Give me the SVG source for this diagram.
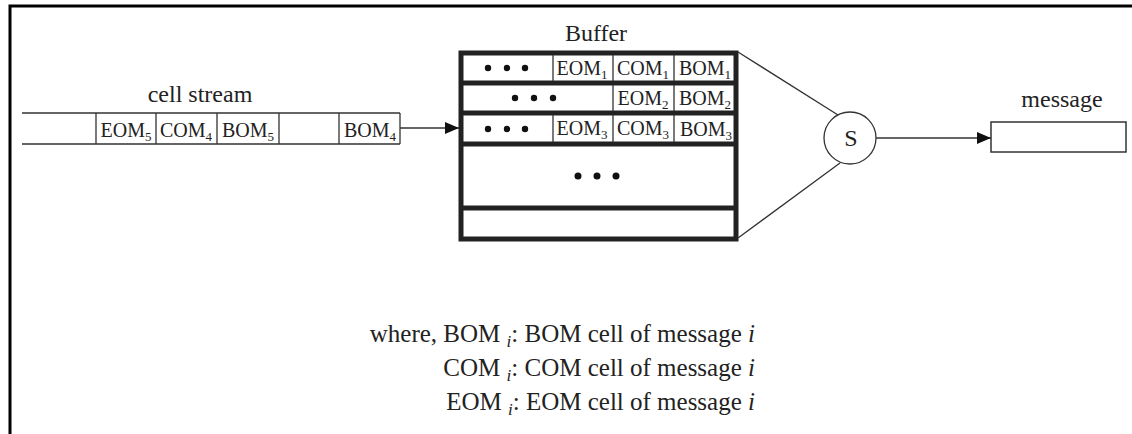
<svg xmlns="http://www.w3.org/2000/svg" width="1132" height="434" viewBox="0 0 1132 434">
<defs>
<style>
.t{font-family:"Liberation Serif","Times New Roman",serif;fill:#222;}
.lab{font-size:24px;}
.leg{font-size:25px;}
.cell{font-size:20px;}
.sub{font-size:13px;}
.thin{stroke:#333;stroke-width:1.3;fill:none;}
.thick{stroke:#222;stroke-width:5;fill:none;}
.dot{fill:#111;}
</style>
<marker id="arr" viewBox="0 0 14 12" refX="14" refY="6" markerWidth="14" markerHeight="12" markerUnits="userSpaceOnUse" orient="auto">
<path d="M0,0 L14,6 L0,12 Z" fill="#111"/>
</marker>
</defs>
<rect width="1132" height="434" fill="#fff"/>
<g id="frame">
<path d="M10,434 L10,6 L1132,6" stroke="#000" stroke-width="3" fill="none"/>
</g>
<g id="cellstream">
<text class="t lab" x="200" y="102" text-anchor="middle">cell stream</text>
<path class="thin" d="M22,113 L400,113 M22,144 L400,144 M96,113 V144 M156,113 V144 M217,113 V144 M279,113 V144 M339,113 V144 M400,113 V144"/>
<text class="t cell" x="126" y="137" text-anchor="middle">EOM<tspan class="sub" dy="4">5</tspan></text>
<text class="t cell" x="186" y="137" text-anchor="middle">COM<tspan class="sub" dy="4">4</tspan></text>
<text class="t cell" x="248" y="137" text-anchor="middle">BOM<tspan class="sub" dy="4">5</tspan></text>
<text class="t cell" x="370" y="137" text-anchor="middle">BOM<tspan class="sub" dy="4">4</tspan></text>
</g>
<g id="buffer">
<text class="t lab" x="596" y="41" text-anchor="middle">Buffer</text>
<rect class="thick" x="461" y="53" width="275" height="186"/>
<path class="thick" d="M461,83 H736 M461,113 H736 M461,144 H736 M461,208 H736"/>
<path class="thin" d="M553,55 V81 M613,55 V81 M674,55 V81 M613,85 V111 M674,85 V111 M553,115 V142 M613,115 V142 M674,115 V142"/>
<circle class="dot" cx="488" cy="68" r="3.2"/><circle class="dot" cx="507" cy="68" r="3.2"/><circle class="dot" cx="525" cy="68" r="3.2"/>
<circle class="dot" cx="515" cy="98" r="3.2"/><circle class="dot" cx="534" cy="98" r="3.2"/><circle class="dot" cx="553" cy="98" r="3.2"/>
<circle class="dot" cx="488" cy="129" r="3.2"/><circle class="dot" cx="507" cy="129" r="3.2"/><circle class="dot" cx="525" cy="129" r="3.2"/>
<circle class="dot" cx="578" cy="176" r="3.5"/><circle class="dot" cx="597" cy="176" r="3.5"/><circle class="dot" cx="616" cy="176" r="3.5"/>
<text class="t cell" x="582" y="75" text-anchor="middle">EOM<tspan class="sub" dy="4">1</tspan></text>
<text class="t cell" x="643" y="75" text-anchor="middle">COM<tspan class="sub" dy="4">1</tspan></text>
<text class="t cell" x="705" y="75" text-anchor="middle">BOM<tspan class="sub" dy="4">1</tspan></text>
<text class="t cell" x="643" y="105" text-anchor="middle">EOM<tspan class="sub" dy="4">2</tspan></text>
<text class="t cell" x="705" y="105" text-anchor="middle">BOM<tspan class="sub" dy="4">2</tspan></text>
<text class="t cell" x="582" y="135" text-anchor="middle">EOM<tspan class="sub" dy="4">3</tspan></text>
<text class="t cell" x="643" y="135" text-anchor="middle">COM<tspan class="sub" dy="4">3</tspan></text>
<text class="t cell" x="706" y="136" text-anchor="middle">BOM<tspan class="sub" dy="4">3</tspan></text>
</g>
<g id="switch">
<circle cx="850" cy="138" r="26" fill="#fff" stroke="#333" stroke-width="1.3"/>
<text class="t" x="851" y="146" text-anchor="middle" font-size="24">S</text>
</g>
<g id="message">
<text class="t lab" x="1062" y="107" text-anchor="middle">message</text>
<rect x="991" y="122" width="135" height="30" fill="#fff" stroke="#333" stroke-width="1.5"/>
</g>
<g id="connectors">
<path class="thin" d="M400,128 H459" marker-end="url(#arr)"/>
<path class="thin" d="M738,52 L838,115 M738,238 L840,163"/>
<path class="thin" d="M876,138 H991" marker-end="url(#arr)"/>
</g>
<g id="legend">
<text class="t leg" x="755" y="342" text-anchor="end">where, BOM <tspan font-size="17" font-style="italic" dy="5">i</tspan><tspan dy="-5">: BOM cell of message </tspan><tspan font-style="italic">i</tspan></text>
<text class="t leg" x="755" y="376" text-anchor="end">COM <tspan font-size="17" font-style="italic" dy="5">i</tspan><tspan dy="-5">: COM cell of message </tspan><tspan font-style="italic">i</tspan></text>
<text class="t leg" x="755" y="410" text-anchor="end">EOM <tspan font-size="17" font-style="italic" dy="5">i</tspan><tspan dy="-5">: EOM cell of message </tspan><tspan font-style="italic">i</tspan></text>
</g>
</svg>
